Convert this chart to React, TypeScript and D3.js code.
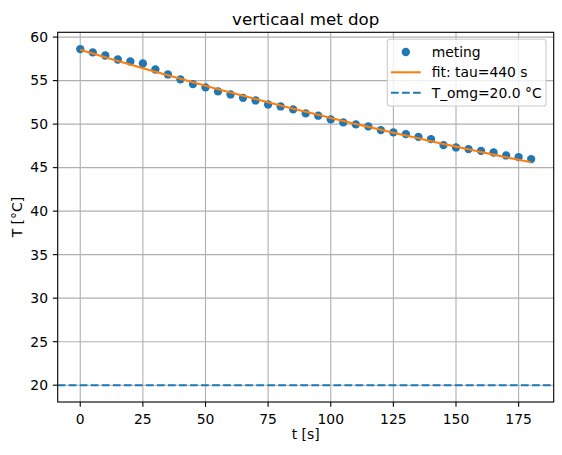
// @ts-nocheck
import * as d3 from "d3";

const times = [
  0, 5, 10, 15, 20, 25, 30, 35, 40, 45, 50, 55, 60, 65, 70, 75, 80, 85, 90,
  95, 100, 105, 110, 115, 120, 125, 130, 135, 140, 145, 150, 155, 160, 165,
  170, 175, 180,
];
const temps = [
  58.62, 58.24, 57.89, 57.43, 57.2, 56.97, 56.28, 55.71, 55.14, 54.6, 54.22,
  53.76, 53.41, 53.02, 52.72, 52.26, 52.03, 51.69, 51.23, 50.97, 50.54, 50.2,
  49.97, 49.74, 49.31, 49.05, 48.85, 48.54, 48.28, 47.59, 47.32, 47.13, 46.93,
  46.74, 46.4, 46.21, 45.98,
];
const tau = 440;
const T0 = 58.55;
const Tomg = 20.0;
const xTicks = [0, 25, 50, 75, 100, 125, 150, 175];
const yTicks = [20, 25, 30, 35, 40, 45, 50, 55, 60];
const legendLabels = ["meting", "fit: tau=440 s", "T_omg=20.0 °C"];

const width = 562;
const height = 455;
const left = 57.7;
const right = 553.7;
const top = 32.3;
const bottom = 402;
const font = "DejaVu Sans, sans-serif";

export default function App() {
  const x = d3.scaleLinear([-9, 189], [left, right]);
  const yMin = Math.min(Tomg, d3.min(temps));
  const yMax = Math.max(Tomg, d3.max(temps));
  const pad = (yMax - yMin) * 0.05;
  const y = d3.scaleLinear([yMin - pad, yMax + pad], [bottom, top]);

  const fit = times.map((t) => [t, Tomg + (T0 - Tomg) * Math.exp(-t / tau)]);
  const line = d3
    .line()
    .x((d) => x(d[0]))
    .y((d) => y(d[1]));

  const lx = 387.3;
  const ly = 39.3;

  return (
    <svg
      width={width}
      height={height}
      style={{ position: "absolute", left: 0, top: 0 }}
      fontFamily={font}
    >
      <rect width={width} height={height} fill="white" />
      <defs>
        <clipPath id="plot">
          <rect x={left} y={top} width={right - left} height={bottom - top} />
        </clipPath>
      </defs>
      {/* grid */}
      <g stroke="#b0b0b0" strokeWidth={1.11}>
        {xTicks.map((t) => (
          <line key={"gx" + t} x1={x(t)} x2={x(t)} y1={top} y2={bottom} />
        ))}
        {yTicks.map((t) => (
          <line key={"gy" + t} x1={left} x2={right} y1={y(t)} y2={y(t)} />
        ))}
      </g>
      <g clipPath="url(#plot)">
        <line
          x1={left}
          x2={right}
          y1={y(Tomg)}
          y2={y(Tomg)}
          stroke="#1f77b4"
          strokeWidth={2.08}
          strokeDasharray="7.7 3.33"
        />
        <g fill="#1f77b4">
          {times.map((t, i) => (
            <circle key={i} cx={x(t)} cy={y(temps[i])} r={4.17} />
          ))}
        </g>
        <path d={line(fit)} fill="none" stroke="#ff7f0e" strokeWidth={2.08} />
      </g>
      {/* spines */}
      <rect
        x={left}
        y={top}
        width={right - left}
        height={bottom - top}
        fill="none"
        stroke="black"
        strokeWidth={1.11}
      />
      {/* x ticks */}
      <g fontSize={13.9} textAnchor="middle">
        {xTicks.map((t) => (
          <g key={"xt" + t}>
            <line x1={x(t)} x2={x(t)} y1={bottom} y2={bottom + 4.86} stroke="black" strokeWidth={1.11} />
            <text x={x(t)} y={bottom + 21.5}>
              {t}
            </text>
          </g>
        ))}
      </g>
      <g fontSize={13.9} textAnchor="end">
        {yTicks.map((t) => (
          <g key={"yt" + t}>
            <line x1={left - 4.86} x2={left} y1={y(t)} y2={y(t)} stroke="black" strokeWidth={1.11} />
            <text x={left - 9.7} y={y(t)} dy="0.35em">
              {t}
            </text>
          </g>
        ))}
      </g>
      <text x={(left + right) / 2} y={439} fontSize={13.9} textAnchor="middle">
        t [s]
      </text>
      <text
        transform={`translate(22,${(top + bottom) / 2}) rotate(-90)`}
        fontSize={13.9}
        textAnchor="middle"
      >
        T [°C]
      </text>
      <text x={(left + right) / 2} y={24.5} fontSize={16.67} textAnchor="middle">
        verticaal met dop
      </text>
      {/* legend */}
      <rect
        x={lx}
        y={ly}
        width={546 - lx}
        height={106 - ly}
        rx={2.8}
        fill="white"
        fillOpacity={0.8}
        stroke="#cccccc"
        strokeWidth={1.11}
      />
      <circle cx={405.8} cy={52} r={4.17} fill="#1f77b4" />
      <line x1={391} x2={420.7} y1={72.3} y2={72.3} stroke="#ff7f0e" strokeWidth={2.08} />
      <line
        x1={391}
        x2={420.7}
        y1={92.7}
        y2={92.7}
        stroke="#1f77b4"
        strokeWidth={2.08}
        strokeDasharray="7.7 3.33"
      />
      <g fontSize={13.9}>
        {legendLabels.map((l, i) => (
          <text key={l} x={431.7} y={52 + i * 20.35} dy="0.35em">
            {l}
          </text>
        ))}
      </g>
    </svg>
  );
}
